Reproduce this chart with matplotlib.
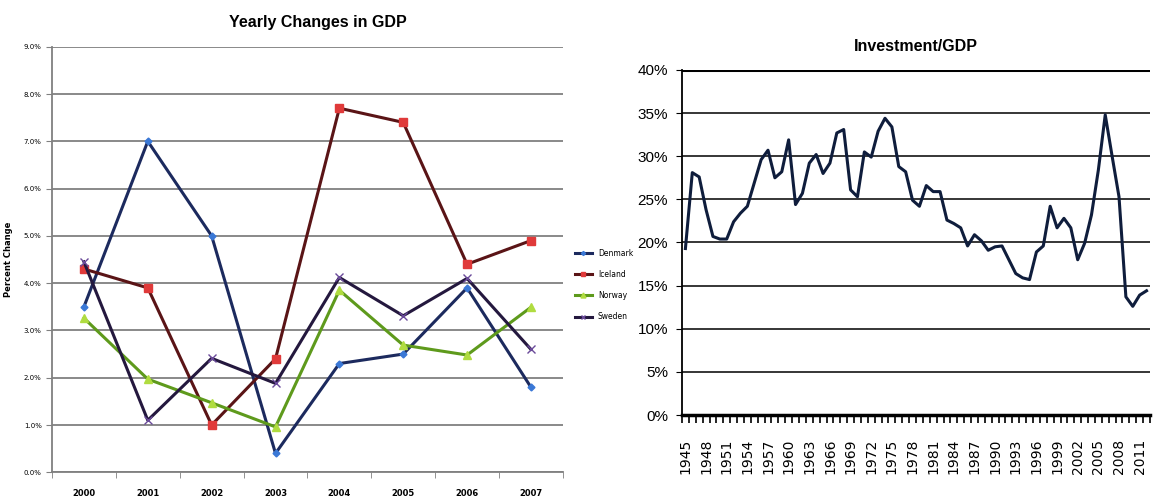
import matplotlib as mpl
import numpy as np
mpl.use('Agg')
import matplotlib.pyplot as plt
from matplotlib.ticker import FixedLocator, FuncFormatter

# left chart data
years_gdp = [2000, 2001, 2002, 2003, 2004, 2005, 2006, 2007]
denmark = [3.5, 7.0, 5.0, 0.4, 2.3, 2.5, 3.9, 1.8]
iceland = [4.3, 3.9, 1.0, 2.4, 7.7, 7.4, 4.4, 4.9]
norway = [3.26, 1.97, 1.47, 0.96, 3.85, 2.69, 2.48, 3.49]
sweden = [4.45, 1.1, 2.41, 1.88, 4.12, 3.31, 4.1, 2.6]

# right chart data (percent)
years_inv = list(range(1945, 2013))
invest = [19.3, 28.1, 27.6, 23.8, 20.7, 20.4, 20.4, 22.4, 23.4, 24.2,
          26.9, 29.6, 30.7, 27.5, 28.2, 31.9, 24.4, 25.7, 29.2, 30.2,
          28.0, 29.2, 32.7, 33.1, 26.1, 25.3, 30.5, 29.9, 32.9, 34.4,
          33.4, 28.8, 28.2, 24.9, 24.2, 26.6, 25.9, 25.9, 22.6, 22.2,
          21.7, 19.6, 20.9, 20.2, 19.1, 19.5, 19.6, 18.0, 16.4, 15.9,
          15.7, 18.9, 19.6, 24.2, 21.7, 22.8, 21.7, 18.0, 19.9, 23.2,
          28.4, 34.8, 30.0, 25.3, 13.7, 12.6, 13.9, 14.4]

sans = 'Liberation Sans'

fig = plt.figure(figsize=(11.61, 4.96), dpi=100)

# ---- Yearly Changes in GDP ----
ax = fig.add_axes([0.0448, 0.0478, 0.440, 0.858])
x = np.arange(len(years_gdp))
styles = [
    ('Denmark', denmark, '#1c2a5e', 'D', '#3a78d6', 3.5),
    ('Iceland', iceland, '#5a1416', 's', '#e03a3a', 6),
    ('Norway', norway, '#5e9a1c', '^', '#b0dc40', 6),
    ('Sweden', sweden, '#24183e', 'x', '#6a4a9a', 6),
]
for name, vals, lc, mk, mc, ms in styles:
    ax.plot(x, vals, color=lc, lw=2.2, marker=mk, markersize=ms,
            markerfacecolor=mc, markeredgecolor=mc, label=name, zorder=3)
ax.set_xlim(-0.5, len(years_gdp) - 0.5)
ax.set_ylim(0, 9)
ax.set_yticks(np.arange(0, 10, 1))
ax.yaxis.set_major_formatter(FuncFormatter(lambda v, p: '%.1f%%' % v))
ax.grid(axis='y', color='#808080', lw=1.3)
ax.set_axisbelow(True)
ax.set_xticks(x)
ax.set_xticklabels([str(y) for y in years_gdp], fontsize=6, fontweight='bold')
ax.xaxis.set_minor_locator(FixedLocator(np.arange(-0.5, len(years_gdp), 1)))
ax.tick_params(axis='x', which='major', length=0, pad=12)
ax.tick_params(axis='x', which='minor', length=4, color='#808080')
ax.tick_params(axis='y', labelsize=5, length=4, color='#808080')
for s in ['top', 'right']:
    ax.spines[s].set_visible(False)
ax.spines['left'].set_color('#808080')
ax.spines['bottom'].set_color('#808080')
ax.spines['left'].set_linewidth(1.3)
ax.spines['bottom'].set_linewidth(1.3)
ax.set_ylabel('Percent Change', fontsize=6, fontweight='bold', labelpad=8)
ax.set_title('Yearly Changes in GDP', fontsize=11.5, fontweight='bold',
             family=sans, pad=14, x=0.52)
ax.legend(loc='center left', bbox_to_anchor=(1.01, 0.44), frameon=False,
          fontsize=5.5, handlelength=2.2, labelspacing=1.6, markerscale=0.6)

# ---- Investment/GDP ----
ax2 = fig.add_axes([0.5874, 0.1633, 0.4031, 0.6956])
ax2.plot(years_inv, invest, color='#0f1d3c', lw=2.2)
ax2.set_xlim(years_inv[0] - 0.5, years_inv[-1] + 0.5)
ax2.set_ylim(0, 40)
ax2.set_yticks(np.arange(0, 45, 5))
ax2.yaxis.set_major_formatter(FuncFormatter(lambda v, p: '%d%%' % v))
ax2.grid(axis='y', color='black', lw=1.1)
ax2.axhline(40, color='black', lw=2.2)
ax2.set_xticks(years_inv[::3])
ax2.set_xticklabels([str(y) for y in years_inv[::3]], rotation=90,
                    fontsize=10)
ax2.xaxis.set_minor_locator(FixedLocator(np.arange(years_inv[0] - 0.5,
                                                   years_inv[-1] + 1, 1)))
ax2.tick_params(axis='x', which='major', length=0, pad=17)
ax2.tick_params(axis='x', which='minor', length=6, width=1.2)
ax2.tick_params(axis='y', labelsize=11, length=4, pad=6)
for lab in ax2.get_yticklabels():
    lab.set_family(sans)
for s in ['top', 'right']:
    ax2.spines[s].set_visible(False)
ax2.spines['bottom'].set_linewidth(2.5)
ax2.spines['left'].set_linewidth(1.3)
ax2.set_title('Investment/GDP', fontsize=11.5, fontweight='bold',
              family=sans, pad=14)

plt.savefig('out.png', dpi=100)
plt.close()
